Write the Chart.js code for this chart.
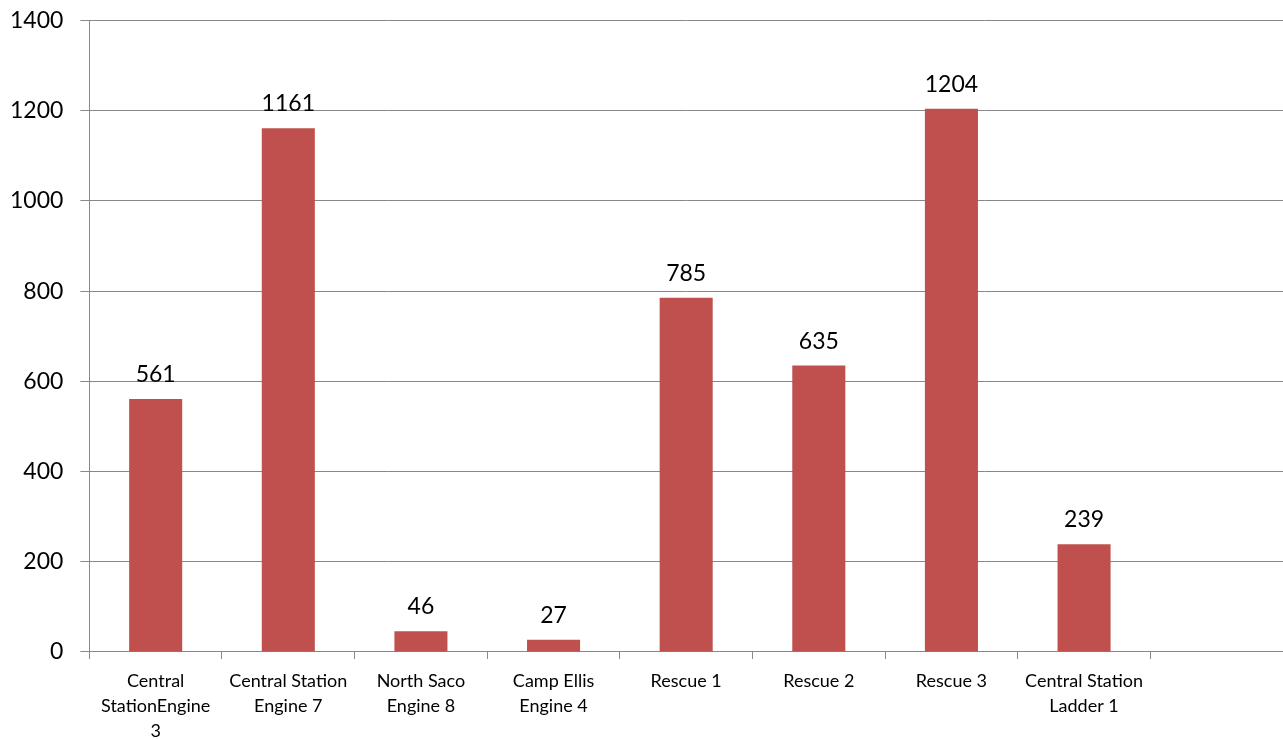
<!DOCTYPE html>
<html>
<head>
<meta charset="utf-8">
<script src="https://cdn.jsdelivr.net/npm/chart.js@4/dist/chart.umd.min.js"></script>
<style>
  html, body { margin: 0; padding: 0; background: #fff; }
  #wrap { width: 1283px; height: 740px; }
</style>
</head>
<body>
<div id="wrap"><canvas id="chart-canvas" width="1283" height="740"></canvas></div>
<script>
const categories = [
    ['Central', 'StationEngine', '3'],
    ['Central Station', 'Engine 7'],
    ['North Saco', 'Engine 8'],
    ['Camp Ellis', 'Engine 4'],
    'Rescue 1',
    'Rescue 2',
    'Rescue 3',
    ['Central Station', 'Ladder 1'],
    ''
];
const values = [561, 1161, 46, 27, 785, 635, 1204, 239, null];
const yTicks = [0, 200, 400, 600, 800, 1000, 1200, 1400];

const fontFamily = 'Lato, "Liberation Sans", sans-serif';

// draw value above each bar
const valueLabels = {
    id: 'valueLabels',
    afterDatasetsDraw(chart) {
        const ctx = chart.ctx;
        const meta = chart.getDatasetMeta(0);
        ctx.save();
        ctx.fillStyle = '#000';
        ctx.font = '23px ' + fontFamily;
        ctx.textAlign = 'center';
        ctx.textBaseline = 'alphabetic';
        meta.data.forEach((bar, i) => {
            if (values[i] == null) return;
            ctx.fillText(String(values[i]), bar.x, bar.y - 17);
        });
        ctx.restore();
    }
};

new Chart(document.getElementById('chart-canvas'), {
    type: 'bar',
    data: {
        labels: categories,
        datasets: [{
            data: values,
            backgroundColor: '#C0504D',
            categoryPercentage: 1,
            barPercentage: 0.4
        }]
    },
    options: {
        responsive: false,
        animation: false,
        layout: { padding: { top: 0, right: 0, left: -7, bottom: -14 } },
        plugins: {
            legend: { display: false },
            tooltip: { enabled: false }
        },
        scales: {
            y: {
                min: 0,
                max: 1400,
                afterBuildTicks: axis => { axis.ticks = yTicks.map(v => ({ value: v })); },
                grid: { color: '#888', tickLength: 9, lineWidth: 1 },
                border: { color: '#888' },
                ticks: {
                    color: '#000',
                    // small lineHeight keeps the top overhang down to ~20px
                    font: { size: 23, family: fontFamily, lineHeight: 0.3 },
                    padding: 17,
                    callback: v => String(v)
                }
            },
            x: {
                grid: {
                    offset: true,
                    drawOnChartArea: false,
                    drawTicks: true,
                    tickLength: 7,
                    color: '#888'
                },
                border: { color: '#888' },
                ticks: {
                    color: '#000',
                    font: { size: 18, family: fontFamily, lineHeight: 1.39 },
                    maxRotation: 0,
                    autoSkip: false,
                    padding: 10
                }
            }
        }
    },
    plugins: [valueLabels]
});
</script>
</body>
</html>
